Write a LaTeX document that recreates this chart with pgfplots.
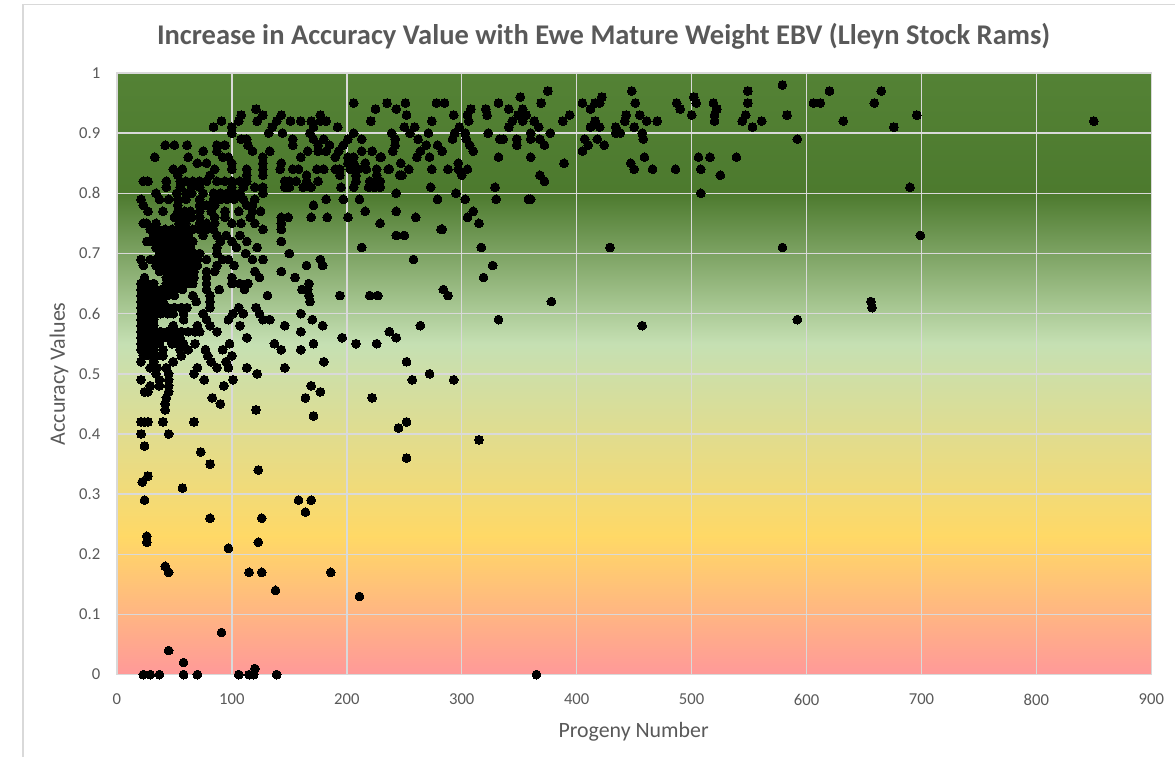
\documentclass[border=0pt]{standalone}
\usepackage{fontspec}
\setmainfont{Carlito}
\usepackage{pgfplots}
\pgfplotsset{compat=1.18}
\pgfdeclareverticalshading{excelbg}{100bp}{
 rgb(0bp)=(1,0.6,0.6);
 rgb(25bp)=(1,0.6,0.6);
 rgb(36.5bp)=(1,0.85,0.4);
 rgb(52.5bp)=(0.773,0.878,0.702);
 rgb(65bp)=(0.30,0.478,0.18);
 rgb(75bp)=(0.329,0.51,0.208);
 rgb(100bp)=(0.329,0.51,0.208)}
\definecolor{txt}{HTML}{595959}
\definecolor{gl}{HTML}{D9D9D9}
\begin{document}
\begin{tikzpicture}
\begin{axis}[
 at={(0,0)},anchor=south west,
 scale only axis,width=776.25pt,height=451.5pt,
 xmin=0,xmax=900,ymin=0,ymax=1,
 xtick={0,100,...,900},
 ytick={0,0.1,...,1},
 yticklabels={0,0.1,0.2,0.3,0.4,0.5,0.6,0.7,0.8,0.9,1},
 xmajorgrids,ymajorgrids,
 major grid style={gl,line width=1.1pt},
 axis line style={gl,line width=1pt},
 tick style={draw=none},
 major tick length=0pt,
 axis background/.style={shading=excelbg},
 /pgf/number format/assume math mode=true,
 ticklabel style={font=\fontsize{12.5pt}{14pt}\selectfont,text=txt},
 xticklabel style={yshift=-11pt},
 yticklabel style={xshift=-9pt},
 title={Increase in Accuracy Value with Ewe Mature Weight EBV (Lleyn Stock Rams)},
 title style={font=\fontsize{21.4pt}{24pt}\selectfont\bfseries,text=txt,anchor=center,at={(0.4705,1)},yshift=21.75pt},
 xlabel={Progeny Number},
 xlabel style={font=\fontsize{16.4pt}{18pt}\selectfont,text=txt,anchor=center,at={(0.4995,0)},yshift=-43pt},
 ylabel={Accuracy Values},
 ylabel style={font=\fontsize{16.5pt}{18pt}\selectfont,text=txt,anchor=center,at={(0,0.5)},yshift=43.5pt},
]
\addplot[only marks,mark=*,mark size=3.3pt,mark options={fill=black,draw=black,line width=0pt},black] coordinates {
(579,.98)
(375,.97)(448,.97)(549,.97)(620,.97)(665,.97)
(351,.96)(422,.96)(502,.96)
(206,.95)(235,.95)(251,.95)(278,.95)(285,.95)(332,.95)(369,.95)(405,.95)(416,.95)(420,.95)(451,.95)(487,.95)(504,.95)(519,.95)(549,.95)(612,.95)(606,.95)(659,.95)
(121,.94)(225,.94)(243,.94)(321,.94)(308,.94)(341,.94)(353,.94)(412,.94)(490,.94)(522,.94)
(108,.93)(127,.93)(143,.93)(177,.93)(252,.93)(293,.93)(322,.93)(305,.93)(349,.93)(356,.93)(394,.93)(443,.93)(455,.93)(500,.93)(520,.93)(547,.93)(583,.93)(696,.93)
(91,.92)(106,.92)(122,.92)(139,.92)(151,.92)(160,.92)(169,.92)(177,.92)(182,.92)(221,.92)(274,.92)(306,.92)(344,.92)(353,.92)(363,.92)(388,.92)(416,.92)(442,.92)(461,.92)(470,.92)(520,.92)(544,.92)(561,.92)(632,.92)(850,.92)
(84,.91)(100,.91)(135,.91)(171,.91)(192,.91)(250,.91)(259,.91)(298,.91)(341,.91)(367,.91)(412,.91)(420,.91)(434,.91)(450,.91)(553,.91)(676,.91)
(100,.90)(132,.90)(144,.90)(168,.90)(206,.90)(239,.90)(255,.90)(271,.90)(294,.90)(303,.90)(323,.90)(360,.90)(377,.90)(434,.90)(438,.90)(457,.90)
(108,.89)(113,.89)(153,.89)(171,.89)(180,.89)(201,.89)(213,.89)(242,.89)(262,.89)(292,.89)(304,.89)(333,.89)(336,.89)(348,.89)(360,.89)(368,.89)(407,.89)(418,.89)(458,.89)(592,.89)
(42,.88)(50,.88)(61,.88)(87,.88)(94,.88)(114,.88)(153,.88)(175,.88)(185,.88)(197,.88)(242,.88)(269,.88)(279,.88)(307,.88)(348,.88)(372,.88)(410,.88)(424,.88)
(75,.87)(87,.87)(118,.87)(133,.87)(166,.87)(175,.87)(182,.87)(193,.87)(213,.87)(222,.87)(240,.87)(264,.87)(283,.87)(310,.87)(405,.87)
(33,.86)(62,.86)(92,.86)(97,.86)(127,.86)(160,.86)(190,.86)(201,.86)(206,.86)(229,.86)(230,.86)(261,.86)(272,.86)(332,.86)(360,.86)(459,.86)(506,.86)(516,.86)(539,.86)
(70,.85)(78,.85)(100,.85)(127,.85)(143,.85)(201,.85)(206,.85)(216,.85)(247,.85)(297,.85)(389,.85)(447,.85)
(49,.84)(57,.84)(85,.84)(100,.84)(113,.84)(127,.84)(142,.84)(153,.84)(158,.84)(174,.84)(180,.84)(190,.84)(194,.84)(203,.84)(210,.84)(217,.84)(226,.84)(236,.84)(237,.84)(254,.84)(274,.84)(288,.84)(297,.84)(305,.84)(450,.84)(466,.84)(486,.84)(508,.84)
(53,.83)(81,.83)(113,.83)(127,.83)(165,.83)(194,.83)(208,.83)(226,.83)(246,.83)(248,.83)(300,.83)(368,.83)(525,.83)
(23,.82)(27,.82)(43,.82)(55,.82)(60,.82)(66,.82)(72,.82)(78,.82)(87,.82)(94,.82)(100,.82)(107,.82)(113,.82)(146,.82)(150,.82)(156,.82)(165,.82)(175,.82)(208,.82)(220,.82)(225,.82)(229,.82)(372,.82)
(43,.81)(55,.81)(65,.81)(72,.81)(100,.81)(110,.81)(120,.81)(127,.81)(146,.81)(150,.81)(162,.81)(169,.81)(195,.81)(206,.81)(219,.81)(224,.81)(229,.81)(273,.81)(329,.81)(690,.81)
(34,.80)(52,.80)(60,.80)(65,.80)(75,.80)(84,.80)(90,.80)(96,.80)(102,.80)(107,.80)(127,.80)(243,.80)(295,.80)(508,.80)
(21,.79)(37,.79)(45,.79)(53,.79)(60,.79)(72,.79)(84,.79)(90,.79)(96,.79)(102,.79)(110,.79)(120,.79)(182,.79)(197,.79)(211,.79)(279,.79)(303,.79)(330,.79)(358,.79)(360,.79)
(23,.78)(53,.78)(72,.78)(78,.78)(85,.78)(113,.78)(118,.78)(171,.78)
(27,.77)(40,.77)(53,.77)(59,.77)(64,.77)(72,.77)(82,.77)(94,.77)(106,.77)(118,.77)(125,.77)(216,.77)(243,.77)(310,.77)
(50,.76)(55,.76)(60,.76)(65,.76)(72,.76)(85,.76)(94,.76)(116,.76)(143,.76)(149,.76)(169,.76)(183,.76)(201,.76)(260,.76)(305,.76)
(23,.75)(26,.75)(34,.75)(54,.75)(60,.75)(72,.75)(78,.75)(85,.75)(100,.75)(108,.75)(120,.75)(143,.75)(229,.75)(315,.75)
(29,.74)(36,.74)(42,.74)(48,.74)(54,.74)(60,.74)(66,.74)(72,.74)(78,.74)(84,.74)(127,.74)(143,.74)(282,.74)(283,.74)
(32,.73)(38,.73)(44,.73)(50,.73)(56,.73)(62,.73)(75,.73)(87,.73)(95,.73)(107,.73)(243,.73)(250,.73)(699,.73)
(26,.72)(30,.72)(36,.72)(42,.72)(48,.72)(54,.72)(60,.72)(66,.72)(90,.72)(100,.72)(113,.72)(143,.72)
(34,.71)(40,.71)(46,.71)(52,.71)(58,.71)(64,.71)(87,.71)(104,.71)(122,.71)(213,.71)(317,.71)(429,.71)(579,.71)
(37,.70)(43,.70)(49,.70)(55,.70)(61,.70)(67,.70)(72,.70)(87,.70)(112,.70)(150,.70)
(21,.69)(29,.69)(34,.69)(40,.69)(46,.69)(52,.69)(58,.69)(64,.69)(70,.69)(78,.69)(92,.69)(97,.69)(118,.69)(127,.69)(177,.69)(258,.69)
(23,.68)(34,.68)(40,.68)(46,.68)(52,.68)(58,.68)(64,.68)(70,.68)(87,.68)(102,.68)(165,.68)(179,.68)(327,.68)
(37,.67)(43,.67)(49,.67)(55,.67)(61,.67)(67,.67)(78,.67)(85,.67)(120,.67)(143,.67)
(24,.66)(43,.66)(49,.66)(55,.66)(61,.66)(67,.66)(78,.66)(100,.66)(124,.66)(155,.66)(319,.66)
(21,.65)(26,.65)(32,.65)(43,.65)(49,.65)(55,.65)(61,.65)(66,.65)(78,.65)(100,.65)(107,.65)(114,.65)(167,.65)
(21,.64)(27,.64)(33,.64)(39,.64)(45,.64)(51,.64)(57,.64)(78,.64)(89,.64)(111,.64)(161,.64)(166,.64)(284,.64)
(21,.63)(26,.63)(32,.63)(38,.63)(44,.63)(50,.63)(66,.63)(81,.63)(131,.63)(167,.63)(194,.63)(220,.63)(227,.63)(288,.63)
(21,.62)(26,.62)(32,.62)(38,.62)(40,.62)(69,.62)(81,.62)(168,.62)(378,.62)(656,.62)
(21,.61)(26,.61)(32,.61)(38,.61)(44,.61)(50,.61)(56,.61)(61,.61)(81,.61)(106,.61)(121,.61)(657,.61)
(21,.60)(26,.60)(32,.60)(38,.60)(44,.60)(49,.60)(58,.60)(75,.60)(101,.60)(110,.60)(124,.60)(160,.60)
(21,.59)(26,.59)(32,.59)(58,.59)(78,.59)(97,.59)(127,.59)(133,.59)(170,.59)(332,.59)(592,.59)
(21,.58)(26,.58)(32,.58)(49,.58)(70,.58)(81,.58)(107,.58)(146,.58)(179,.58)(264,.58)(457,.58)
(21,.57)(26,.57)(32,.57)(38,.57)(44,.57)(50,.57)(56,.57)(62,.57)(68,.57)(72,.57)(87,.57)(160,.57)(237,.57)
(21,.56)(26,.56)(32,.56)(38,.56)(44,.56)(50,.56)(55,.56)(113,.56)(196,.56)(243,.56)
(21,.55)(26,.55)(32,.55)(37,.55)(48,.55)(53,.55)(58,.55)(68,.55)(98,.55)(137,.55)(171,.55)(208,.55)(226,.55)
(21,.54)(26,.54)(32,.54)(40,.54)(55,.54)(62,.54)(77,.54)(92,.54)(143,.54)(160,.54)
(23,.53)(29,.53)(35,.53)(40,.53)(56,.53)(79,.53)(100,.53)
(21,.52)(32,.52)(49,.52)(82,.52)(95,.52)(180,.52)(252,.52)
(29,.51)(35,.51)(43,.51)(70,.51)(87,.51)(97,.51)(113,.51)(146,.51)
(34,.50)(45,.50)(67,.50)(122,.50)(272,.50)
(21,.49)(37,.49)(45,.49)(76,.49)(101,.49)(257,.49)(293,.49)
(29,.48)(37,.48)(45,.48)(93,.48)(169,.48)
(24,.47)(27,.47)(45,.47)(177,.47)
(43,.46)(83,.46)(164,.46)(222,.46)
(42,.45)(90,.45)
(42,.44)(121,.44)
(171,.43)
(21,.42)(24,.42)(27,.42)(40,.42)(67,.42)(252,.42)
(245,.41)
(21,.40)(45,.40)
(315,.39)(24,.38)(73,.37)(252,.36)(81,.35)(123,.34)(27,.33)(22,.32)(57,.31)
(24,.29)(158,.29)(169,.29)
(164,.27)(81,.26)(126,.26)(26,.23)(26,.22)(123,.22)(97,.21)(42,.18)
(45,.17)(115,.17)(126,.17)(186,.17)
(138,.14)(211,.13)(91,.07)(45,.04)(58,.02)(120,.01)
(23,0)(29,0)(37,0)(58,0)(70,0)(106,0)(115,0)(119,0)(139,0)(365,0)
};
\end{axis}
\draw[gl,line width=1pt] (-70.5pt,-61.5pt) -- (-70.5pt,503pt) -- (794.25pt,503pt);
\path[use as bounding box] (-87.75pt,-61.5pt) rectangle (794.25pt,506.25pt);
\end{tikzpicture}
\end{document}
